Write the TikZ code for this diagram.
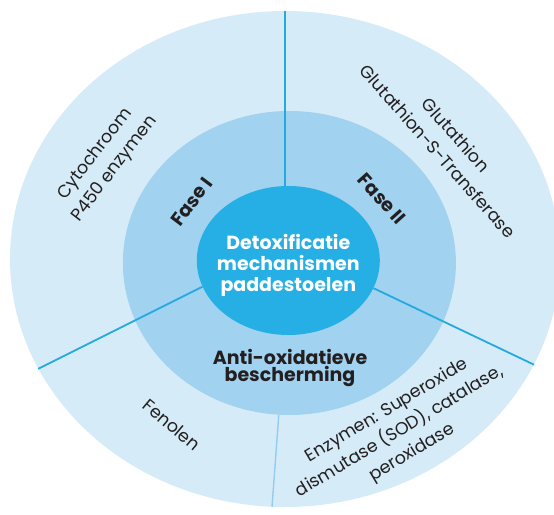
\documentclass[tikz,border=0pt]{standalone}
\usepackage{fontspec}
\usepackage{tikz}
\usetikzlibrary{shapes.geometric}
\setmainfont{Poppins}
\definecolor{detoxInk}{HTML}{231F20}
\definecolor{detoxPale}{HTML}{D6EBF8}
\definecolor{detoxMid}{HTML}{A1D2F0}
\definecolor{detoxCore}{HTML}{25AFE4}
\definecolor{detoxLine}{HTML}{25A9E1}
\definecolor{detoxLineSoft}{HTML}{93CCEE}
\tikzset{
  ringdisc/.style={ellipse,draw=none,inner sep=0pt},
  outerlabel/.style={align=center,text=detoxInk,inner sep=0pt,
    font=\fontsize{17.5}{24.5}\selectfont},
  phaselabel/.style={align=center,text=detoxInk,inner sep=0pt,
    font=\fontsize{19}{17}\selectfont\bfseries},
  corelabel/.style={align=center,text=white,inner sep=0pt,
    font=\fontsize{19}{21}\selectfont\bfseries},
  divider/.style={draw=detoxLine,line width=1.8pt},
  softdivider/.style={draw=detoxLineSoft,line width=1.4pt}
}

\begin{document}
\begin{tikzpicture}[x=1pt,y=1pt]
  \useasboundingbox (0,0) rectangle (554,514);
  \clip (0,0) rectangle (554,514);
  % three rings
  \node[ringdisc,fill=detoxPale,minimum width=550,minimum height=496] (outer) at (285,255) {};
  \node[ringdisc,fill=detoxMid,minimum width=333,minimum height=304] (ring) at (289.4,251) {};
  \node[ringdisc,fill=detoxCore,minimum width=183,minimum height=149] (core) at (288.3,253.5) {};
  \coordinate (top) at (outer.90.5);
  % dividers
  \draw[divider] (core.north -| top) -- (top);
  \draw[divider] (core.197) -- (outer.204.9);
  \draw[divider] (core.342) -- (outer.337.3);
  \draw[softdivider] (ring.266.5) -- (outer.267.7);
  % labels
  \node[corelabel] (title) at ([yshift=-4.5]core.center) {Detoxificatie\\mechanismen\\paddestoelen};
  \node[phaselabel,rotate=53] (faseI) at (191.7,312.3) {Fase I};
  \node[phaselabel,rotate=-48] (faseII) at (381.7,315) {Fase II};
  \node[phaselabel] (anti) at (290,145.5) {Anti-oxidatieve\\bescherming};
  \node[outerlabel,rotate=52.5] (cyto) at (105,352.3) {Cytochroom\\P450 enzymen};
  \node[outerlabel,rotate=-48.5] (gluta) at (447,371) {Glutathion\\Glutathion-S-Transferase};
  \node[outerlabel,rotate=-40] (fenolen) at (171.7,89) {Fenolen};
  \node[outerlabel,rotate=31] (enzym) at (399.7,82) {Enzymen: Superoxide\\dismutase (SOD), catalase,\\peroxidase};
\end{tikzpicture}
\end{document}
